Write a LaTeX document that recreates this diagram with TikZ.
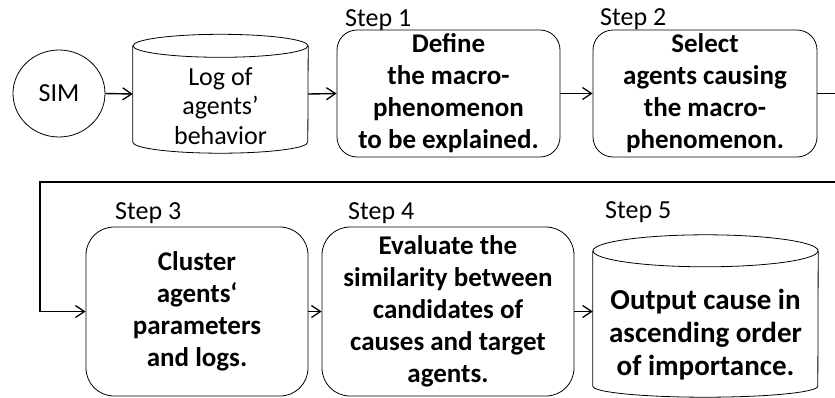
\documentclass[tikz,border=0pt]{standalone}
\usepackage{fontspec}
\setmainfont{Carlito}
\usetikzlibrary{shapes.geometric,arrows.meta}
\tikzset{
  stepbox/.style={draw, rounded corners=20pt, line width=0.8pt, align=center, inner sep=0pt,
    font=\bfseries\fontsize{27}{32}\selectfont},
  bodybox/.style={inner sep=0pt},
  cyl/.style={draw, line width=0.8pt},
  cyltext/.style={align=center, inner sep=0pt},
  steplabel/.style={anchor=base west, inner sep=0pt, font=\fontsize{26}{30}\selectfont},
  flow/.style={-{Straight Barb[length=9pt,width=12pt,line width=1.3pt]}, line width=1.4pt},
}
\begin{document}
\begin{tikzpicture}[x=1pt,y=-1pt]
\useasboundingbox (0,0) rectangle (835,397);
\clip (0,0) rectangle (835,397);
\fill[white] (0,0) rectangle (835,397);

% SIM
\node[draw, ellipse, line width=0.8pt, minimum width=92pt, minimum height=87pt, inner sep=0pt,
  font=\fontsize{26}{30}\selectfont] (sim) at (59,93.5) {SIM};

% Log cylinder
\node[bodybox, minimum width=175pt, minimum height=96pt] (log) at (220.5,94) {};
\draw[cyl] (log.north west) -- (log.south west)
  arc[start angle=180, end angle=0, x radius=87.5, y radius=11] -- (log.north east);
\draw[cyl] (log.north) ellipse [x radius=87.5, y radius=11.5];
\node[cyltext, font=\fontsize{26}{29.5}\selectfont] (logtxt) at (220.5,106) {Log of\\agents’\\behavior};

% Step 1 and 2
\node[stepbox, minimum width=223pt, minimum height=127pt] (step1) at (448.5,93.5)
  {Define\\the macro-\\phenomenon\\to be explained.};
\node[stepbox, minimum width=224pt, minimum height=127pt] (step2) at (705,93.5)
  {Select\\agents causing\\the macro-\\phenomenon.};
\node[steplabel] (lab1) at (345,26) {Step 1};
\node[steplabel] (lab2) at (600,25) {Step 2};

% Step 3 and 4
\node[stepbox, rounded corners=28pt, minimum width=222pt, minimum height=169pt] (step3) at (197,311.5)
  {Cluster\\agents‘\\parameters\\and logs.};
\node[stepbox, rounded corners=28pt, minimum width=252pt, minimum height=169pt] (step4) at (448,311.5)
  {Evaluate the\\similarity between\\candidates of\\causes and target\\agents.};
\node[steplabel] (lab3) at (115,219) {Step 3};
\node[steplabel] (lab4) at (348,219) {Step 4};

% Step 5 cylinder
\node[bodybox, minimum width=225pt, minimum height=135pt] (out) at (705.5,318.5) {};
\draw[cyl] (out.north west) -- (out.south west)
  arc[start angle=180, end angle=0, x radius=112.5, y radius=11] -- (out.north east);
\draw[cyl] (out.north) ellipse [x radius=112.5, y radius=16];
\node[cyltext, font=\bfseries\fontsize{29}{33}\selectfont] (outtxt) at (705.5,335)
  {Output cause in\\ascending order\\of importance.};
\node[steplabel] (lab5) at (605,218) {Step 5};

% connectors
\coordinate (fbA) at (850,93.5);
\coordinate (fbB) at (850,182);
\coordinate (fbC) at (40,182);
\draw[flow] (sim.east) -- (log.west);
\draw[flow] (log.east) -- (step1.west);
\draw[flow] (step1.east) -- (step2.west);
\draw[flow, line width=1.8pt] (step2.east) -- (fbA) -- (fbB) -- (fbC) |- (step3.west);
\draw[flow] (step3.east) -- (step4.west);
\draw[flow] (step4.east) -- (step4.east -| out.west);
\end{tikzpicture}
\end{document}
